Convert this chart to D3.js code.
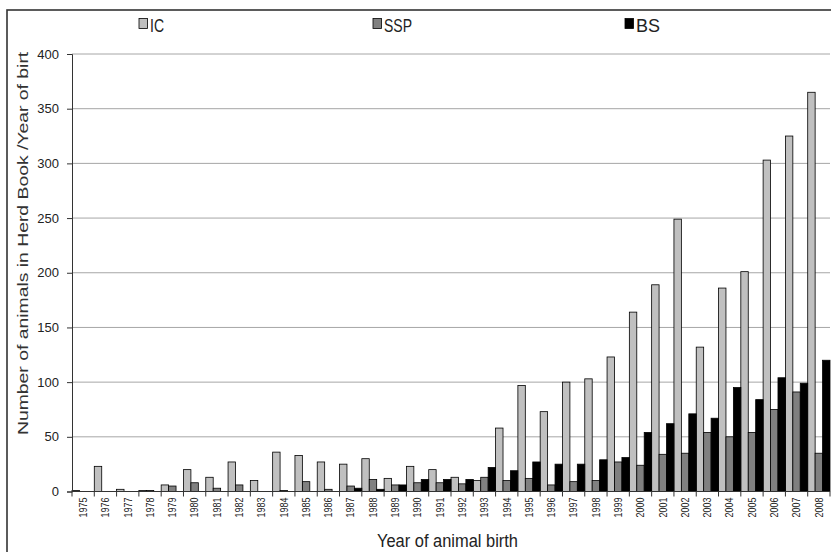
<!DOCTYPE html>
<html><head><meta charset="utf-8">
<script src="https://cdn.jsdelivr.net/npm/d3@7"></script>
<style>
body{margin:0;background:#fff;}
svg text{font-family:"Liberation Sans",Arial,sans-serif;}
</style></head>
<body><svg id="c" width="831" height="552"></svg>
<script>
const years = ["1975","1976","1977","1978","1979","1980","1981","1982","1983","1984","1985","1986","1987","1988","1989","1990","1991","1992","1993","1994","1995","1996","1997","1998","1999","2000","2001","2002","2003","2004","2005","2006","2007","2008"];
const IC  = [1,23,2,1,6,20,13,27,10,36,33,27,25,30,12,23,20,13,10,58,97,73,100,103,123,164,189,249,132,186,201,303,325,365];
const SSP = [0,0,0,1,5,8,3,6,0,1,9,2,5,11,6,8,8,7,13,10,12,6,9,10,27,24,34,35,54,50,54,75,91,35];
const BS  = [0,0,0,0,0,0,0,0,0,0,0,0,3,2,6,11,11,11,22,19,27,25,25,29,31,54,62,71,67,95,84,104,99,120];
const seriesNames = ["IC","SSP","BS"];
const seriesColors = ["#c0c0c0","#808080","#000000"];
const yTicks = [0,50,100,150,200,250,300,350,400];

const svg = d3.select("#c");
const L = 72, R = 830, T = 54, B = 491.5;

// frame
svg.append("rect").attr("x",7).attr("y",10).attr("width",840).attr("height",560)
  .attr("fill","none").attr("stroke","#333").attr("stroke-width",1.6);

const x = d3.scaleBand().domain(years).range([L,R]).padding(0);
const xs = d3.scaleBand().domain(seriesNames).range([0,x.bandwidth()]).padding(0);
const y = d3.scaleLinear().domain([0,400]).range([B,T]);

// gridlines
svg.append("g").selectAll("line").data(yTicks.slice(1)).join("line")
  .attr("x1",L).attr("x2",R).attr("y1",d=>y(d)).attr("y2",d=>y(d))
  .attr("stroke","#a6a6a6").attr("stroke-width",1);

// bars
const data = [IC,SSP,BS];
const g = svg.append("g");
seriesNames.forEach((s,si)=>{
  g.append("g").selectAll("rect").data(years).join("rect")
    .attr("x",(d)=>x(d)+xs(s))
    .attr("width",xs.bandwidth())
    .attr("y",(d,i)=>y(data[si][i]))
    .attr("height",(d,i)=>B-y(data[si][i]))
    .attr("fill",seriesColors[si])
    .attr("stroke",(d,i)=>data[si][i]>0?"#000":"none")
    .attr("stroke-width",0.8);
});

// y axis
const ya = svg.append("g").attr("transform",`translate(${L},0)`)
  .call(d3.axisLeft(y).tickValues(yTicks).tickSize(5).tickPadding(8));
ya.select(".domain").attr("stroke","#333");
ya.selectAll(".tick line").attr("stroke","#333");
ya.selectAll("text").attr("font-size",13).attr("fill","#222")
  .attr("font-family","'Liberation Sans',Arial,sans-serif");

// x axis
const xa = svg.append("g").attr("transform",`translate(0,${B})`);
xa.append("line").attr("x1",L).attr("x2",R).attr("stroke","#333");
const bounds = years.map(d=>x(d)).concat([R]);
xa.selectAll("line.tk").data(bounds).join("line").attr("class","tk")
  .attr("x1",d=>d).attr("x2",d=>d).attr("y1",0).attr("y2",5).attr("stroke","#333");
xa.selectAll("text").data(years).join("text")
  .attr("transform",d=>`translate(${x(d)+x.bandwidth()/2+3.8},6) rotate(-90)`)
  .attr("text-anchor","end").attr("font-size",10.5).attr("fill","#222")
  .attr("textLength",20).attr("lengthAdjust","spacingAndGlyphs").text(d=>d);

// axis titles
svg.append("defs").append("clipPath").attr("id","clipY")
  .append("rect").attr("x",0).attr("y",51).attr("width",60).attr("height",500);
svg.append("g").attr("clip-path","url(#clipY)").append("text")
  .attr("transform","translate(27.5,435) rotate(-90)").attr("text-anchor","start")
  .attr("font-size",14).attr("fill","#333")
  .attr("textLength",394).attr("lengthAdjust","spacingAndGlyphs")
  .text("Number of animals in Herd Book /Year of birth");
svg.append("text").attr("x",377).attr("y",547)
  .attr("font-size",17.5).attr("fill","#222")
  .attr("textLength",141).attr("lengthAdjust","spacingAndGlyphs")
  .text("Year of animal birth");

// legend
const legX = [139,373,625];
const legW = [14,28,24];
seriesNames.forEach((s,i)=>{
  svg.append("rect").attr("x",legX[i]).attr("y",18.5).attr("width",8.5).attr("height",10)
    .attr("fill",seriesColors[i]).attr("stroke","#000").attr("stroke-width",0.8);
  svg.append("text").attr("x",legX[i]+11).attr("y",32).attr("font-size",18)
    .attr("textLength",legW[i]).attr("lengthAdjust","spacingAndGlyphs")
    .attr("fill","#222").text(s);
});
</script></body></html>
